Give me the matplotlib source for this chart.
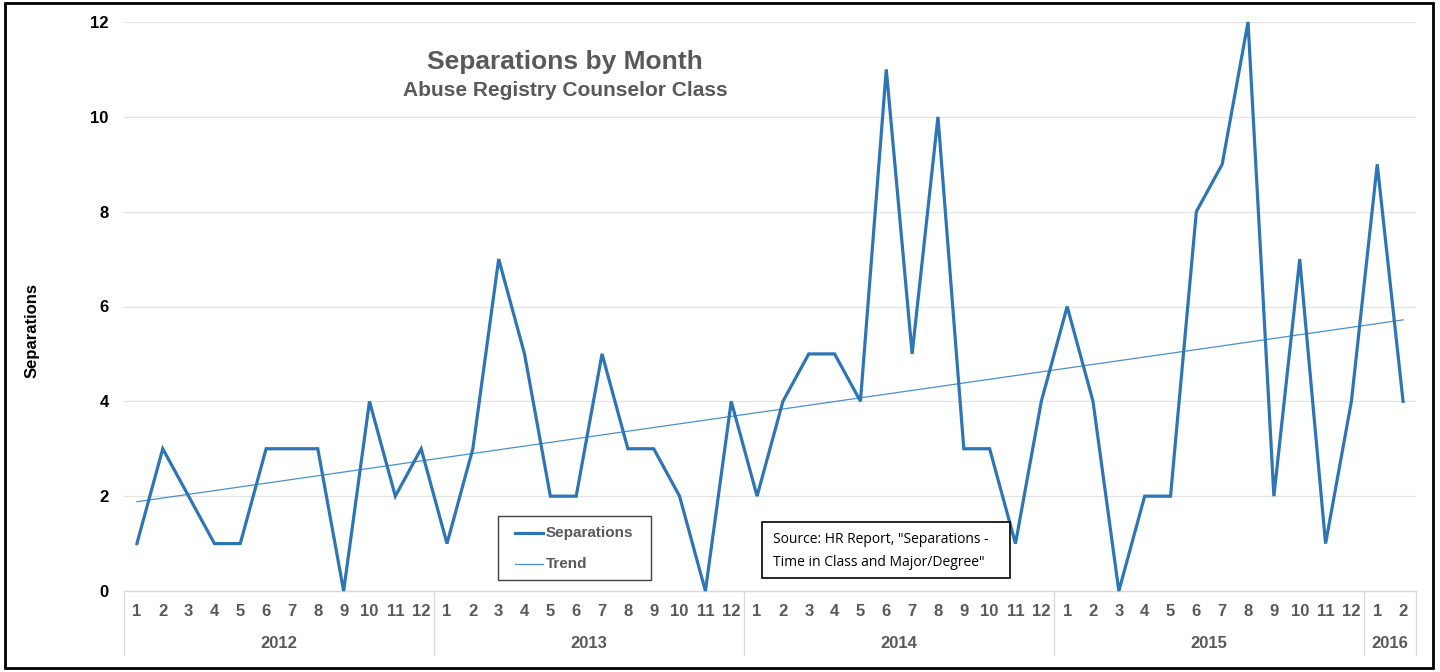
import matplotlib
matplotlib.use("Agg")
import matplotlib.pyplot as plt
import matplotlib.transforms as mtransforms
from matplotlib.patches import Rectangle
from matplotlib.lines import Line2D
import numpy as np

plt.rcParams['font.family'] = ['Liberation Sans', 'DejaVu Sans']

years = ["2012", "2013", "2014", "2015", "2016"]
months_per_year = [12, 12, 12, 12, 2]
separations = [
    1, 3, 2, 1, 1, 3, 3, 3, 0, 4, 2, 3,      # 2012
    1, 3, 7, 5, 2, 2, 5, 3, 3, 2, 0, 4,      # 2013
    2, 4, 5, 5, 4, 11, 5, 10, 3, 3, 1, 4,    # 2014
    6, 4, 0, 2, 2, 8, 9, 12, 2, 7, 1, 4,     # 2015
    9, 4,                                    # 2016
]
month_labels = [str(m) for n in months_per_year for m in range(1, n + 1)]
y_ticks = [0, 2, 4, 6, 8, 10, 12]

W, H = 1440, 672
fig = plt.figure(figsize=(W / 100, H / 100), dpi=100)
fig.patch.set_facecolor("white")

ax_l, ax_r, ax_t, ax_b = 124, 1416, 22, 591
ax = fig.add_axes([ax_l / W, 1 - ax_b / H, (ax_r - ax_l) / W, (ax_b - ax_t) / H])

x = np.arange(len(separations))
y = np.array(separations, dtype=float)
coef = np.polyfit(x, y, 1)
trend = np.polyval(coef, x)

ax.plot(x, y, color="#2E75B6", lw=2.3, solid_joinstyle="miter", zorder=3, clip_on=False)
ax.plot(x, trend, color="#4A90D0", lw=0.9, zorder=2)

ax.set_xlim(-0.5, len(x) - 0.5)
ax.set_ylim(0, 12)
ax.set_yticks(y_ticks)
ax.set_yticklabels([str(t) for t in y_ticks], fontsize=12, fontweight="bold", color="black")
ax.tick_params(axis="y", length=0, pad=11)
ax.set_xticks([])
for s in ["top", "right", "left"]:
    ax.spines[s].set_visible(False)
ax.spines["bottom"].set_color("#D9D9D9")
ax.spines["bottom"].set_linewidth(1.0)
ax.grid(axis="y", color="#E3E3E3", lw=0.9)
ax.set_axisbelow(True)

fig.text(32 / W, 1 - 330 / H, "Separations", rotation=90, ha="center", va="center",
         fontsize=12, fontweight="bold", color="black")

# category axis
trans = mtransforms.blended_transform_factory(ax.transData, ax.transAxes)
ah = ax_b - ax_t
def ay(px):
    return (ax_b - px) / ah

for xi, lab in zip(x, month_labels):
    ax.text(xi, ay(611), lab, transform=trans, ha="center", va="center",
            fontsize=12, fontweight="bold", color="#595959", clip_on=False)

start = 0
bounds = [-0.5]
for yr, n in zip(years, months_per_year):
    center = start + (n - 1) / 2
    ax.text(center, ay(643), yr, transform=trans, ha="center", va="center",
            fontsize=12, fontweight="bold", color="#595959", clip_on=False)
    start += n
    bounds.append(start - 0.5)
for b in bounds:
    ax.add_line(Line2D([b, b], [0, ay(655)], transform=trans, color="#D9D9D9",
                       lw=0.9, clip_on=False))

# title
fig.text(565 / W, 1 - 62 / H, "Separations by Month", ha="center", va="center",
         fontsize=19, fontweight="bold", color="#595959")
fig.text(565 / W, 1 - 90 / H, "Abuse Registry Counselor Class", ha="center", va="center",
         fontsize=15, fontweight="bold", color="#595959")

# legend box
fig.add_artist(Rectangle((498 / W, 1 - 580 / H), (651 - 498) / W, (580 - 516) / H,
                         transform=fig.transFigure, fill=False, ec="#404040", lw=1.0))
fig.add_artist(Line2D([515 / W, 543 / W], [1 - 533 / H] * 2, transform=fig.transFigure,
                      color="#2E75B6", lw=2.3))
fig.add_artist(Line2D([515 / W, 543 / W], [1 - 564 / H] * 2, transform=fig.transFigure,
                      color="#4A90D0", lw=0.9))
fig.text(546 / W, 1 - 533 / H, "Separations", ha="left", va="center", fontsize=11,
         fontweight="bold", color="#595959")
fig.text(546 / W, 1 - 564 / H, "Trend", ha="left", va="center", fontsize=11,
         fontweight="bold", color="#595959")

# source box
fig.add_artist(Rectangle((762 / W, 1 - 578 / H), (1010 - 762) / W, (578 - 522) / H,
                         transform=fig.transFigure, fill=True, fc="white", ec="black", lw=1.2))
fig.text(773 / W, 1 - 551 / H, "Source: HR Report, \"Separations -\nTime in Class and Major/Degree\"",
         ha="left", va="center", fontsize=10, color="black", linespacing=1.75,
         family=["Open Sans", "DejaVu Sans"])

# outer border
fig.add_artist(Rectangle((5 / W, 1 - 668 / H), (1433 - 5) / W, (668 - 3) / H,
                         transform=fig.transFigure, fill=False, ec="black", lw=2.0))

fig.savefig("out.png", dpi=100)
